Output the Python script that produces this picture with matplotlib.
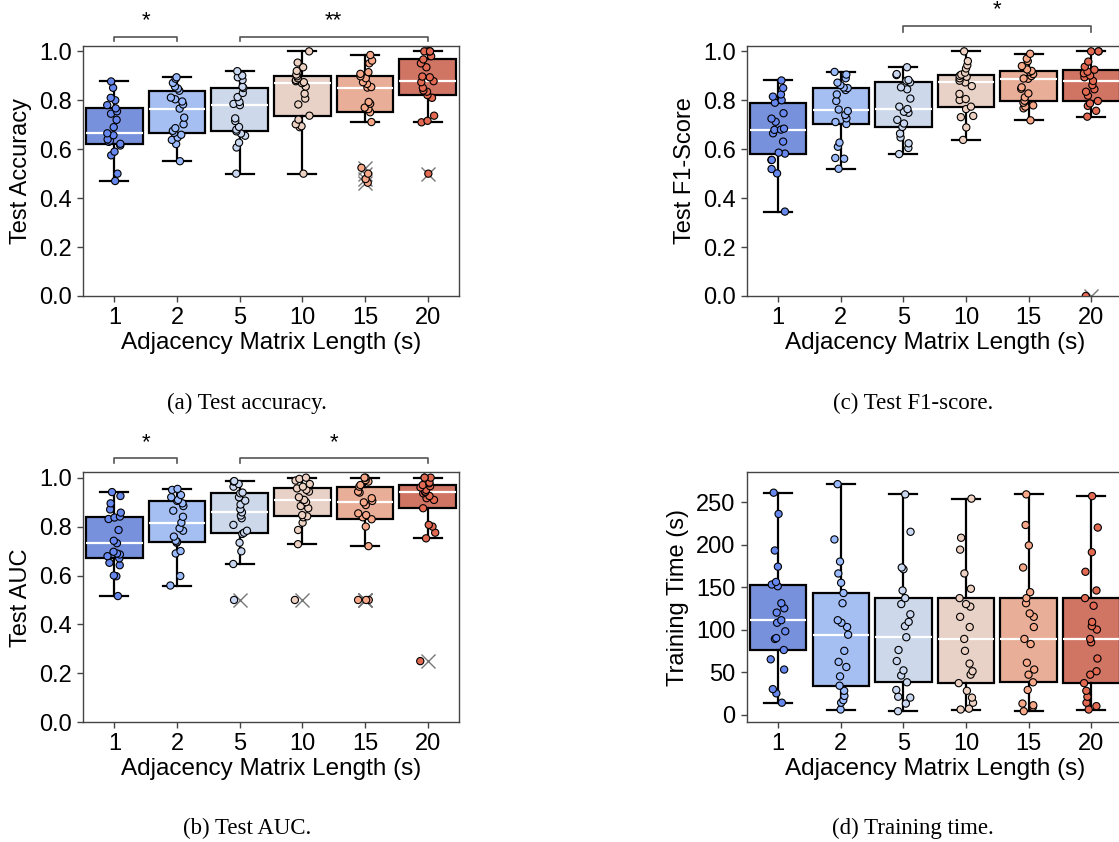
import matplotlib
matplotlib.use('Agg')
import matplotlib.pyplot as plt
import numpy as np
import pandas as pd
import seaborn as sns

# x categories: adjacency matrix length in seconds
LENGTHS = ['1', '2', '5', '10', '15', '20']

# Test accuracy per length (one value per run)
ACC_1 = [0.47, 0.50, 0.575, 0.59, 0.615, 0.622, 0.63, 0.635, 0.64, 0.657, 0.665,
         0.69, 0.72, 0.745, 0.755, 0.767, 0.78, 0.80, 0.81, 0.851, 0.877]
ACC_2 = [0.551, 0.621, 0.638, 0.648, 0.659, 0.667, 0.675, 0.686, 0.702, 0.729, 0.766,
         0.783, 0.795, 0.804, 0.811, 0.839, 0.848, 0.856, 0.871, 0.888, 0.894]
ACC_5 = [0.50, 0.607, 0.627, 0.655, 0.664, 0.673, 0.68, 0.691, 0.715, 0.726, 0.780,
         0.785, 0.793, 0.813, 0.83, 0.850, 0.855, 0.883, 0.894, 0.901, 0.919]
ACC_10 = [0.50, 0.69, 0.694, 0.702, 0.721, 0.737, 0.783, 0.807, 0.827, 0.856, 0.870,
          0.874, 0.878, 0.883, 0.89, 0.898, 0.905, 0.92, 0.935, 0.954, 1.0]
ACC_15 = [0.463, 0.478, 0.50, 0.524, 0.711, 0.751, 0.764, 0.77, 0.786, 0.793, 0.852,
          0.854, 0.867, 0.874, 0.89, 0.898, 0.908, 0.915, 0.951, 0.962, 0.985]
ACC_20 = [0.50, 0.71, 0.716, 0.737, 0.81, 0.821, 0.835, 0.84, 0.851, 0.874, 0.878,
          0.894, 0.897, 0.935, 0.951, 0.967, 0.98, 1.0, 1.0, 1.0, 1.0]

# Test F1-score
F1_1 = [0.345, 0.501, 0.519, 0.556, 0.556, 0.582, 0.586, 0.631, 0.665, 0.679, 0.68,
        0.684, 0.712, 0.725, 0.747, 0.79, 0.80, 0.815, 0.824, 0.85, 0.881]
F1_2 = [0.52, 0.561, 0.564, 0.61, 0.627, 0.703, 0.711, 0.726, 0.74, 0.756, 0.762,
        0.797, 0.824, 0.842, 0.85, 0.852, 0.862, 0.872, 0.89, 0.905, 0.916]
F1_5 = [0.58, 0.605, 0.624, 0.648, 0.664, 0.691, 0.705, 0.72, 0.749, 0.753, 0.764,
        0.774, 0.807, 0.845, 0.853, 0.873, 0.88, 0.883, 0.903, 0.907, 0.935]
F1_10 = [0.638, 0.689, 0.731, 0.736, 0.764, 0.774, 0.801, 0.805, 0.826, 0.858, 0.873,
         0.88, 0.89, 0.896, 0.90, 0.905, 0.913, 0.93, 0.943, 0.96, 1.0]
F1_15 = [0.718, 0.767, 0.774, 0.779, 0.79, 0.798, 0.812, 0.828, 0.847, 0.853, 0.888,
         0.889, 0.899, 0.907, 0.916, 0.92, 0.926, 0.94, 0.96, 0.97, 0.99]
F1_20 = [0.0, 0.733, 0.757, 0.777, 0.787, 0.797, 0.819, 0.835, 0.845, 0.862, 0.879,
         0.894, 0.901, 0.91, 0.917, 0.925, 0.937, 0.958, 1.0, 1.0, 1.0]

# Test AUC
AUC_1 = [0.516, 0.597, 0.60, 0.642, 0.652, 0.670, 0.679, 0.686, 0.69, 0.697, 0.732,
         0.742, 0.786, 0.831, 0.837, 0.841, 0.857, 0.87, 0.895, 0.925, 0.941]
AUC_2 = [0.559, 0.598, 0.69, 0.70, 0.734, 0.738, 0.742, 0.759, 0.783, 0.793, 0.816,
         0.84, 0.865, 0.884, 0.895, 0.905, 0.909, 0.92, 0.929, 0.95, 0.954]
AUC_5 = [0.50, 0.647, 0.699, 0.734, 0.77, 0.775, 0.783, 0.807, 0.834, 0.845, 0.858,
         0.871, 0.89, 0.906, 0.92, 0.936, 0.939, 0.963, 0.974, 0.984, 0.986]
AUC_10 = [0.50, 0.728, 0.786, 0.816, 0.838, 0.842, 0.847, 0.875, 0.884, 0.90, 0.909,
          0.909, 0.92, 0.943, 0.95, 0.956, 0.963, 0.974, 0.988, 0.995, 1.0]
AUC_15 = [0.50, 0.50, 0.50, 0.72, 0.80, 0.83, 0.838, 0.847, 0.854, 0.888, 0.899,
          0.905, 0.916, 0.939, 0.943, 0.963, 0.97, 0.984, 0.99, 1.0, 1.0]
AUC_20 = [0.25, 0.752, 0.775, 0.80, 0.807, 0.875, 0.909, 0.916, 0.925, 0.936, 0.941,
          0.943, 0.95, 0.96, 0.965, 0.97, 0.977, 0.98, 1.0, 1.0, 1.0]

# Training time (s)
TIME_1 = [14, 25, 30, 53, 65, 76, 89, 90, 98, 108, 111,
          120, 125, 131, 151, 153, 156, 174, 193, 236, 261]
TIME_2 = [6, 14, 17, 22, 28, 34, 45, 56, 62, 75, 94,
          103, 108, 111, 131, 143, 155, 166, 180, 206, 271]
TIME_5 = [4, 13, 20, 21, 29, 38, 46, 52, 63, 76, 91,
          104, 109, 118, 130, 137, 146, 171, 173, 215, 259]
TIME_10 = [6, 7, 14, 20, 28, 37, 47, 51, 60, 75, 89,
           103, 115, 127, 130, 137, 148, 166, 194, 208, 254]
TIME_15 = [4, 9, 11, 13, 29, 38, 47, 53, 61, 83, 89,
           103, 115, 119, 131, 137, 144, 173, 199, 223, 259]
TIME_20 = [6, 10, 14, 21, 28, 37, 47, 51, 66, 85, 89,
           100, 104, 109, 128, 137, 146, 168, 191, 220, 257]

# significance brackets: (from category, to category, label)
SIG_ACC = [('1', '2', '*'), ('5', '20', '**')]
SIG_F1 = [('5', '20', '*')]
SIG_AUC = [('1', '2', '*'), ('5', '20', '*')]

plt.rcParams['font.family'] = ['Liberation Sans', 'DejaVu Sans']
np.random.seed(3)  # only for the strip jitter, so reruns look the same

palette = sns.color_palette('coolwarm', len(LENGTHS))
box_colors = [sns.desaturate(c, 0.75) for c in palette]


def panel(ax, series, ylabel, ylim, yticks, sigs, br_y, br_h, star_y):
    df = pd.DataFrame({
        'length': np.repeat(LENGTHS, [len(s) for s in series]),
        'value': np.concatenate(series),
    })
    bp = ax.boxplot(series, positions=range(len(LENGTHS)), widths=0.9,
                    patch_artist=True, capwidths=0.45,
                    boxprops=dict(edgecolor='black', linewidth=1.6),
                    whiskerprops=dict(color='black', linewidth=1.6),
                    capprops=dict(color='black', linewidth=1.6),
                    medianprops=dict(color='white', linewidth=1.6),
                    flierprops=dict(marker='x', markeredgecolor='#777777',
                                    markersize=10, markeredgewidth=1.0),
                    zorder=2)
    for patch, c in zip(bp['boxes'], box_colors):
        patch.set_facecolor(c)
    sns.stripplot(data=df, x='length', y='value', hue='length', order=LENGTHS,
                  hue_order=LENGTHS, palette=palette, jitter=0.12, size=5.2,
                  linewidth=0.8, edgecolor='black', legend=False, ax=ax, zorder=3)
    ax.set_xlim(-0.5, len(LENGTHS) - 0.5)
    ax.set_xticks(range(len(LENGTHS)))
    ax.set_xticklabels(LENGTHS)
    ax.set_ylim(*ylim)
    ax.set_yticks(yticks)
    if isinstance(yticks[1], float):
        ax.set_yticklabels([f'{t:.1f}' for t in yticks])
    ax.tick_params(labelsize=17, length=4, width=1, color='#444444', pad=4)
    ax.set_xlabel('Adjacency Matrix Length (s)', fontsize=17.5, labelpad=2)
    ax.set_ylabel(ylabel, fontsize=17, labelpad=5)
    for sp in ax.spines.values():
        sp.set_color('#444444')
        sp.set_linewidth(1.0)
    tr = ax.get_xaxis_transform()
    for a, b, lab in sigs:
        x0, x1 = LENGTHS.index(a), LENGTHS.index(b)
        ax.plot([x0, x0, x1, x1], [br_y - br_h, br_y, br_y, br_y - br_h],
                color='#555555', lw=1.2, transform=tr, clip_on=False)
        ax.text((x0 + x1) / 2, star_y, lab, ha='center', va='center',
                fontsize=16, transform=tr)


fig = plt.figure(figsize=(11.19, 8.42), dpi=100)
W, H = 0.336, 0.2969
ax_a = fig.add_axes([0.0742, 0.6485, W, H])
ax_c = fig.add_axes([0.6673, 0.6485, W, H])
ax_b = fig.add_axes([0.0742, 0.1422, W, H])
ax_d = fig.add_axes([0.6673, 0.1422, W, H])

unit = [0.0, 0.2, 0.4, 0.6, 0.8, 1.0]
panel(ax_a, [ACC_1, ACC_2, ACC_5, ACC_10, ACC_15, ACC_20], 'Test Accuracy',
      (0, 1.022), unit, SIG_ACC, 1.036, 0.018, 1.1)
panel(ax_c, [F1_1, F1_2, F1_5, F1_10, F1_15, F1_20], 'Test F1-Score',
      (0, 1.022), unit, SIG_F1, 1.08, 0.024, 1.145)
panel(ax_b, [AUC_1, AUC_2, AUC_5, AUC_10, AUC_15, AUC_20], 'Test AUC',
      (0, 1.022), unit, SIG_AUC, 1.056, 0.018, 1.12)
panel(ax_d, [TIME_1, TIME_2, TIME_5, TIME_10, TIME_15, TIME_20], 'Training Time (s)',
      (-9, 285), [0, 50, 100, 150, 200, 250], [], 0, 0, 0)

cap = dict(ha='center', va='center', family='Liberation Serif', fontsize=16.5)
fig.text(247 / 1119, 1 - 403 / 842, '(a) Test accuracy.', **cap)
fig.text(913 / 1119, 1 - 403 / 842, '(c) Test F1-score.', **cap)
fig.text(247 / 1119, 1 - 828 / 842, '(b) Test AUC.', **cap)
fig.text(913 / 1119, 1 - 828 / 842, '(d) Training time.', **cap)

fig.savefig('out.png', dpi=100)
